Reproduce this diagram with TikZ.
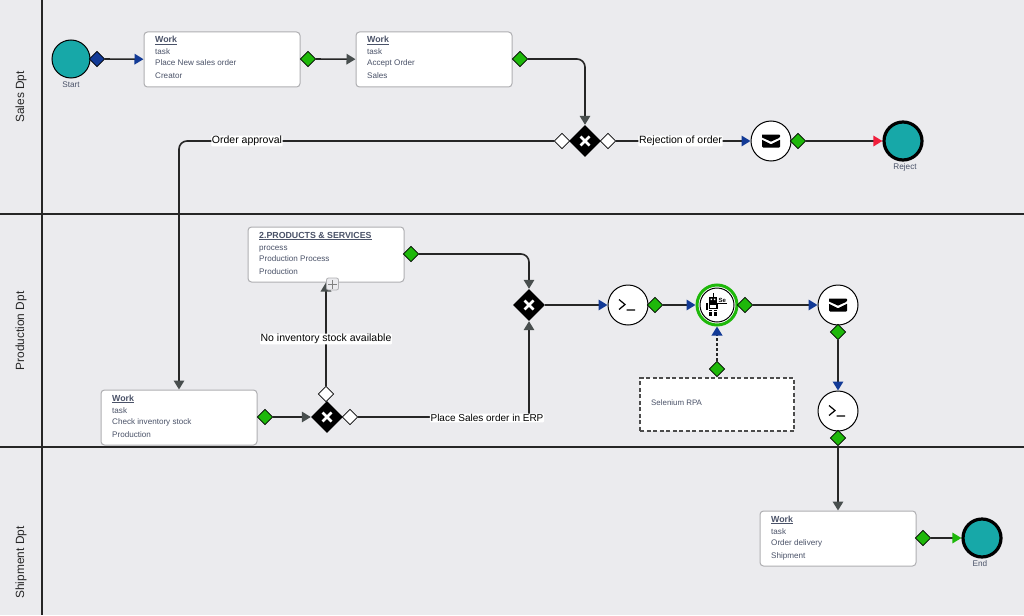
\documentclass[tikz,border=0pt]{standalone}
\usepackage{fontspec}
\setmainfont{Liberation Sans}
\usetikzlibrary{arrows.meta,shapes.geometric}
\definecolor{bg}{RGB}{235,235,238}
\definecolor{teal1}{RGB}{23,168,168}
\definecolor{green1}{RGB}{30,184,10}
\definecolor{blue1}{RGB}{18,58,150}
\definecolor{red1}{RGB}{240,30,60}
\definecolor{greytip}{RGB}{72,78,78}
\definecolor{txt}{RGB}{74,82,104}
\definecolor{boxline}{RGB}{175,175,178}
\tikzset{
 lane/.style={line width=1.5pt,draw=black!85},
 lanelab/.style={rotate=90,font=\fontsize{11.9}{14}\selectfont,text=black!85,inner sep=0pt},
 taskbox/.style={draw=boxline,fill=white,rounded corners=3.5pt,line width=1pt,minimum width=156pt,minimum height=55pt,inner sep=0pt},
 tt/.style={anchor=base west,inner sep=0pt,text=txt,font=\fontsize{8.1}{10}\selectfont},
 ttt/.style={anchor=base west,inner sep=0pt,text=txt,font=\fontsize{8.8}{10}\selectfont\bfseries},
 gd/.style={diamond,aspect=1,draw=black,line width=.7pt,fill=green1,minimum size=15.5pt,inner sep=0pt},
 bd/.style={gd,fill=blue1},
 wd/.style={gd,fill=white},
 gw/.style={diamond,aspect=1,fill=black,minimum size=32pt,inner sep=0pt},
 evt/.style={circle,draw=black,fill=white,line width=1pt,minimum size=40pt,inner sep=0pt},
 startev/.style={circle,draw=black,fill=teal1,line width=1pt,minimum size=38pt,inner sep=0pt},
 endev/.style={circle,draw=black,fill=teal1,line width=3.2pt,minimum size=38pt,inner sep=0pt},
 small/.style={text=txt,font=\fontsize{8.2}{9}\selectfont,inner sep=0pt},
 flow/.style={line width=1.6pt,draw=black!85},
 toblue/.style={flow,-{Triangle[length=9pt,width=10.5pt,color=blue1]}},
 togrey/.style={flow,-{Triangle[length=9pt,width=10.5pt,color=greytip]}},
 tored/.style={flow,-{Triangle[length=9pt,width=10.5pt,color=red1]}},
 togreen/.style={flow,-{Triangle[length=9pt,width=10.5pt,color=green1]}},
 lab/.style={fill=white,text=black,font=\fontsize{10.5}{12}\selectfont,inner sep=.6pt,rounded corners=1pt},
}
\newcommand{\mytask}[7]{%
 \node[taskbox] (#1) at (#2+78,#3+27.5) {};
 \node[ttt] (#1a) at (#2+11,#3+11) {\underline{#4}};
 \node[tt] (#1b) at (#2+11,#3+23) {#5};
 \node[tt] (#1c) at (#2+11,#3+34) {#6};
 \node[tt] (#1d) at (#2+11,#3+47) {#7};
}
\newcommand{\myx}[1]{\draw[white,line width=2.6pt] ([shift={(-4.5,-4.5)}]#1.center) -- ([shift={(4.5,4.5)}]#1.center) ([shift={(-4.5,4.5)}]#1.center) -- ([shift={(4.5,-4.5)}]#1.center);}
\newcommand{\myenv}[1]{\fill[black] ([shift={(-9,-6.5)}]#1.center) [rounded corners=1pt] -- ([shift={(9,-6.5)}]#1.center) -- ([shift={(9,-3.5)}]#1.center) [sharp corners] -- ([shift={(0,.6)}]#1.center) -- ([shift={(-9,-3.5)}]#1.center) -- cycle;
 \fill[black] ([shift={(-9,-1.2)}]#1.center) -- ([shift={(0,3.3)}]#1.center) -- ([shift={(9,-1.2)}]#1.center) [rounded corners=1pt] -- ([shift={(9,6.5)}]#1.center) -- ([shift={(-9,6.5)}]#1.center) [sharp corners] -- cycle;}
\newcommand{\myprompt}[1]{\draw[black,line width=1.2pt] ([shift={(-9,-5.5)}]#1.center) -- ([shift={(-3,-.5)}]#1.center) -- ([shift={(-9,4.5)}]#1.center) ([shift={(-1.5,5)}]#1.center) -- ([shift={(7,5)}]#1.center);}
\begin{document}
\begin{tikzpicture}[x=1pt,y=-1pt]
\useasboundingbox (0,0) rectangle (1024,615);
\fill[bg] (0,0) rectangle (1024,615);
\coordinate (c1) at (42,0); \coordinate (c2) at (42,615);
\coordinate (c3) at (0,214); \coordinate (c4) at (1024,214);
\coordinate (c5) at (0,447); \coordinate (c6) at (1024,447);
\draw[lane] (c1) -- (c2) (c3) -- (c4) (c5) -- (c6);
\node[lanelab] (l1) at (21,97) {Sales Dpt};
\node[lanelab] (l2) at (21,331) {Production Dpt};
\node[lanelab] (l3) at (21,562.5) {Shipment Dpt};

\node[startev] (start) at (71,59) {};
\node[small] (startl) at (71,85) {Start};
\node[bd] (ds) at (97,59) {};
\mytask{t1}{144}{32}{Work}{task}{Place New sales order}{Creator}
\node[gd] (d1) at (308,59) {};
\mytask{t2}{356}{32}{Work}{task}{Accept Order}{Sales}
\node[gd] (d2) at (520,59) {};
\node[gw] (g1) at (585,141) {};
\node[wd] (w1) at (562,141) {};
\node[wd] (w2) at (608,141) {};
\node[evt] (m1) at (771,141) {};
\node[gd] (d3) at (798,141) {};
\node[endev] (rej) at (903,141) {};
\node[small] (rejl) at (905,167) {Reject};

\mytask{t3}{101}{390}{Work}{task}{Check inventory stock}{Production}
\node[gd] (d4) at (265,417) {};
\node[gw] (g2) at (327,417) {};
\node[wd] (w3) at (326,394) {};
\node[wd] (w4) at (350,417) {};
\mytask{p1}{248}{227}{2.PRODUCTS \& SERVICES}{process}{Production Process}{Production}
\node[gd] (d5) at (411,254) {};
\node[gw] (g3) at (529,305) {};
\node[evt] (s1) at (628,305) {};
\node[gd] (d6) at (655,305) {};
\node[circle,draw=green1,fill=white,line width=3pt,minimum size=40pt,inner sep=0pt] (rb) at (717,305) {};
\node[circle,draw=black,line width=1pt,minimum size=34pt,inner sep=0pt] (rbi) at (717,305) {};
\node[gd] (d7) at (745,305) {};
\node[evt] (m2) at (838,305) {};
\node[gd] (d8) at (838,332) {};
\node[evt] (s2) at (838,411) {};
\node[gd] (d9) at (838,438) {};
\node[draw=black!70,dash pattern=on 4pt off 2.5pt,fill=white,line width=1.3pt,minimum width=154pt,minimum height=53pt,inner sep=0pt] (sel) at (717,404.5) {};
\node[small,anchor=west,font=\fontsize{7.9}{9}\selectfont] (sell) at (651,403) {Selenium RPA};
\node[gd] (d10) at (717,369) {};
\mytask{t4}{760}{511}{Work}{task}{Order delivery}{Shipment}
\node[gd] (d11) at (923,538) {};
\node[endev] (fin) at (982,538) {};
\node[small] (finl) at (980,564) {End};

% connectors
\draw[toblue] (ds) -- (t1);
\draw[togrey] (d1) -- (t2);
\draw[togrey,rounded corners=8pt] (d2) -| (g1);
\draw[togrey,rounded corners=8pt] (w1) -| (t3);
\draw[toblue] (w2) -- (m1);
\draw[tored] (d3) -- (rej);
\draw[togrey] (d4) -- (g2);
\draw[togrey] (w3) -- (w3 |- p1.south);
\draw[togrey,rounded corners=8pt] (d5) -| (g3);
\draw[togrey,rounded corners=0pt] (w4) -| (g3);
\draw[toblue] (g3) -- (s1);
\draw[toblue] (d6) -- (rb);
\draw[toblue] (d7) -- (m2);
\draw[toblue] (d8) -- (s2);
\draw[togrey] (d9) -- (d9 |- t4.north);
\draw[togreen] (d11) -- (fin);
\draw[flow,line width=1.9pt,dash pattern=on 3pt off 2pt,-{Triangle[length=9pt,width=10.5pt,color=blue1]}] (d10) -- (rb);

\node[lab] (la) at (247,141) {Order approval};
\node[lab] (lb) at (680.5,141) {Rejection of order};
\node[lab] (lc) at (326,339) {No inventory stock available};
\node[lab,font=\fontsize{10}{12}\selectfont] (ld) at (487,418) {Place Sales order in ERP};

% gateway marks and icons
\myx{g1} \myx{g2} \myx{g3}
\myenv{m1} \myenv{m2}
\myprompt{s1} \myprompt{s2}
% plus marker
\node[draw=boxline,fill=bg,rounded corners=2pt,line width=.8pt,minimum size=12pt,inner sep=0pt] (plus) at (332.5,284) {};
\draw[black!50,line width=.9pt] ([yshift=-4.5pt]plus.center) -- ([yshift=4.5pt]plus.center) ([xshift=-4.5pt]plus.center) -- ([xshift=4.5pt]plus.center);
% robot
\begin{scope}[shift={(713,306)}]
\fill[black] (-4,-9) rectangle (4,-3.5);
\fill[white] (-2.4,-7.5) rectangle (-.8,-6) (.8,-7.5) rectangle (2.4,-6);
\draw[black,line width=.7pt] (0,-9) -- (0,-13);
\fill[black] (-4.5,-3) rectangle (4.5,3);
\fill[white] (-2.8,-1.5) rectangle (2.8,1.5);
\fill[black] (-6.8,-3) rectangle (-5.2,3.5);
\fill[black] (4.5,-3) rectangle (14,-2);
\foreach \yy in {3.5,5.8,8.1}{\fill[black] (-4,\yy) rectangle (-.6,\yy+1.7);\fill[black] (.6,\yy) rectangle (4,\yy+1.7);}
\node[inner sep=0pt,text=black,font=\fontsize{6}{6}\selectfont\bfseries] (se) at (9.2,-6) {Se};
\end{scope}
\end{tikzpicture}
\end{document}
